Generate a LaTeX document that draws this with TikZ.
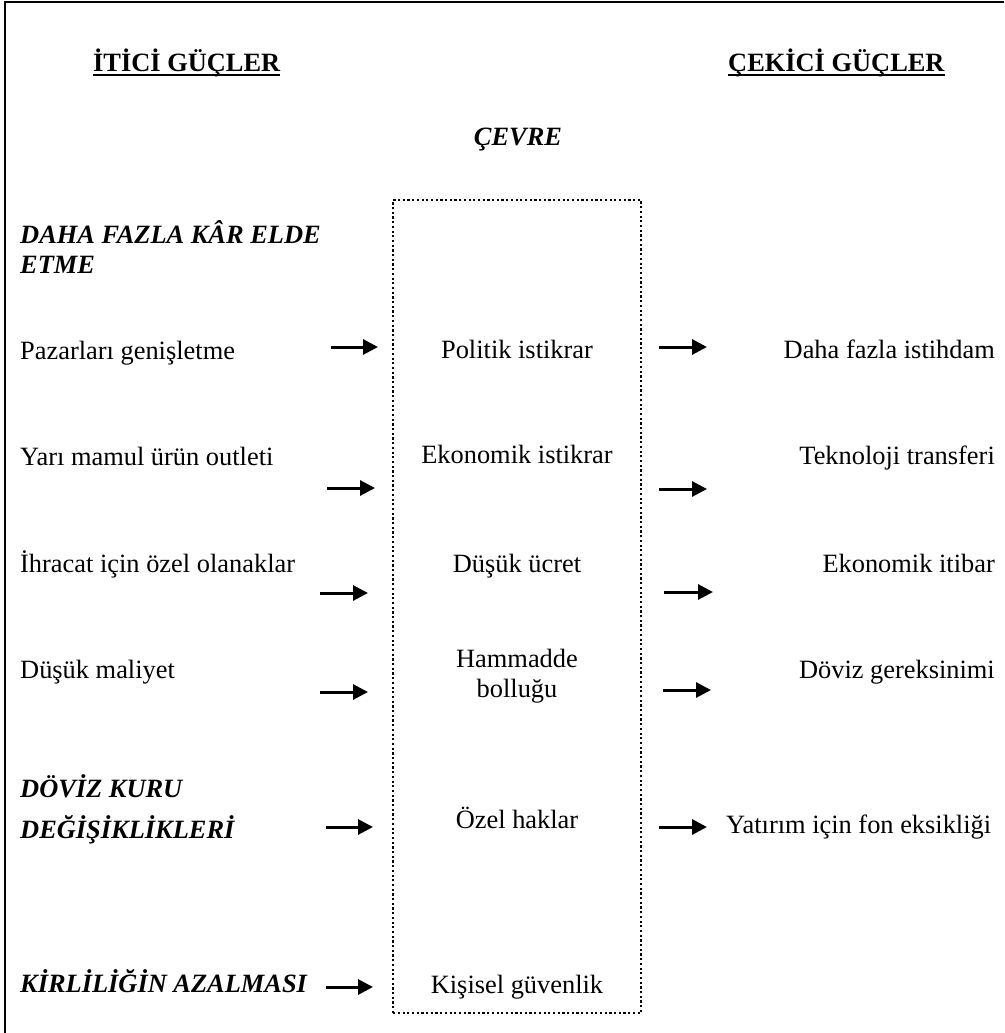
\documentclass[tikz,border=0pt]{standalone}
\usepackage{fontspec}
\setmainfont{Liberation Serif}
\usetikzlibrary{arrows.meta}
\tikzset{
  txt/.style={inner sep=0pt, font=\fontsize{26.4}{30}\selectfont},
  lft/.style={txt, anchor=base west},
  mid/.style={txt, anchor=base, align=center},
  rgt/.style={txt, anchor=base east},
  hd/.style={inner sep=0pt, anchor=base west, font=\fontsize{26.4}{30}\selectfont\bfseries},
  ihd/.style={inner sep=0pt, anchor=base west, font=\fontsize{26.4}{30}\selectfont\bfseries\itshape},
  arr/.style={line width=3pt, -{Triangle[length=15pt,width=15pt]}},
  frameline/.style={line width=2.7pt, line join=miter},
  ulineline/.style={line width=2.6pt},
  envbox/.style={draw, line width=2.2pt, dash pattern=on 2.2pt off 2.5pt, inner sep=0pt},
}
\begin{document}
\begin{tikzpicture}[x=1pt,y=-1pt]
\useasboundingbox (0,0) rectangle (1004,1033);
% outer frame (left and top edges)
\coordinate (fbl) at (5,1033);
\coordinate (ftl) at (5,2);
\coordinate (ftr) at (1004,2);
\draw[frameline] (fbl) -- (ftl) -- (ftr);

% headings
\node[hd] (itici) at (93,71) {İTİCİ GÜÇLER};
\node[hd] (cekici) at (728,71) {ÇEKİCİ GÜÇLER};
\draw[ulineline] ([yshift=-4pt]itici.base west) -- ([yshift=-4pt]itici.base east);
\draw[ulineline] ([yshift=-4pt]cekici.base west) -- ([yshift=-4pt]cekici.base east);
\node[ihd, anchor=base] (cevre) at (518,145) {ÇEVRE};

% environment box
\node[envbox, anchor=north west, minimum width=248pt, minimum height=813pt] (env) at (392,199) {};

% left column
\node[ihd] (daha1) at (20,243) {DAHA FAZLA KÂR ELDE};
\node[ihd] (daha2) at (20,273) {ETME};
\node[lft] (paz) at (20,359) {Pazarları genişletme};
\node[lft] (yari) at (20,465) {Yarı mamul ürün outleti};
\node[lft] (ihr) at (20,572) {İhracat için özel olanaklar};
\node[lft] (dusm) at (20,678) {Düşük maliyet};
\node[ihd] (doviz1) at (20,797) {DÖVİZ KURU};
\node[ihd] (doviz2) at (20,838) {DEĞİŞİKLİKLERİ};
\node[ihd] (kirl) at (20,992) {KİRLİLİĞİN AZALMASI};

% middle column
\node[mid] (pol) at (517,358) {Politik istikrar};
\node[mid] (eko) at (517,463) {Ekonomik istikrar};
\node[mid] (ucret) at (517,572) {Düşük ücret};
\node[mid] (hamm1) at (517,667) {Hammadde};
\node[mid] (hamm2) at (517,697) {bolluğu};
\node[mid] (ozel) at (517,828) {Özel haklar};
\node[mid] (kisi) at (517,993) {Kişisel güvenlik};

% right column
\node[rgt] (ist) at (995,358) {Daha fazla istihdam};
\node[rgt] (tek) at (995,464) {Teknoloji transferi};
\node[rgt] (itibar) at (995,572) {Ekonomik itibar};
\node[rgt] (dovg) at (995,678) {Döviz gereksinimi};
\node[lft] (fon) at (726,833) {Yatırım için fon eksikliği};

% left arrows
\coordinate (l1s) at (331,347); \coordinate (l1e) at (378,347);
\coordinate (l2s) at (327,488); \coordinate (l2e) at (375,488);
\coordinate (l3s) at (320,593); \coordinate (l3e) at (368,593);
\coordinate (l4s) at (320,692); \coordinate (l4e) at (368,692);
\coordinate (l5s) at (326,827); \coordinate (l5e) at (373,827);
\coordinate (l6s) at (326,987); \coordinate (l6e) at (373,987);
\draw[arr] (l1s) -- (l1e);
\draw[arr] (l2s) -- (l2e);
\draw[arr] (l3s) -- (l3e);
\draw[arr] (l4s) -- (l4e);
\draw[arr] (l5s) -- (l5e);
\draw[arr] (l6s) -- (l6e);

% right arrows
\coordinate (r1s) at (659,347); \coordinate (r1e) at (707,347);
\coordinate (r2s) at (659,489); \coordinate (r2e) at (707,489);
\coordinate (r3s) at (664,592); \coordinate (r3e) at (713,592);
\coordinate (r4s) at (663,690); \coordinate (r4e) at (711,690);
\coordinate (r5s) at (659,827); \coordinate (r5e) at (707,827);
\draw[arr] (r1s) -- (r1e);
\draw[arr] (r2s) -- (r2e);
\draw[arr] (r3s) -- (r3e);
\draw[arr] (r4s) -- (r4e);
\draw[arr] (r5s) -- (r5e);
\end{tikzpicture}
\end{document}
